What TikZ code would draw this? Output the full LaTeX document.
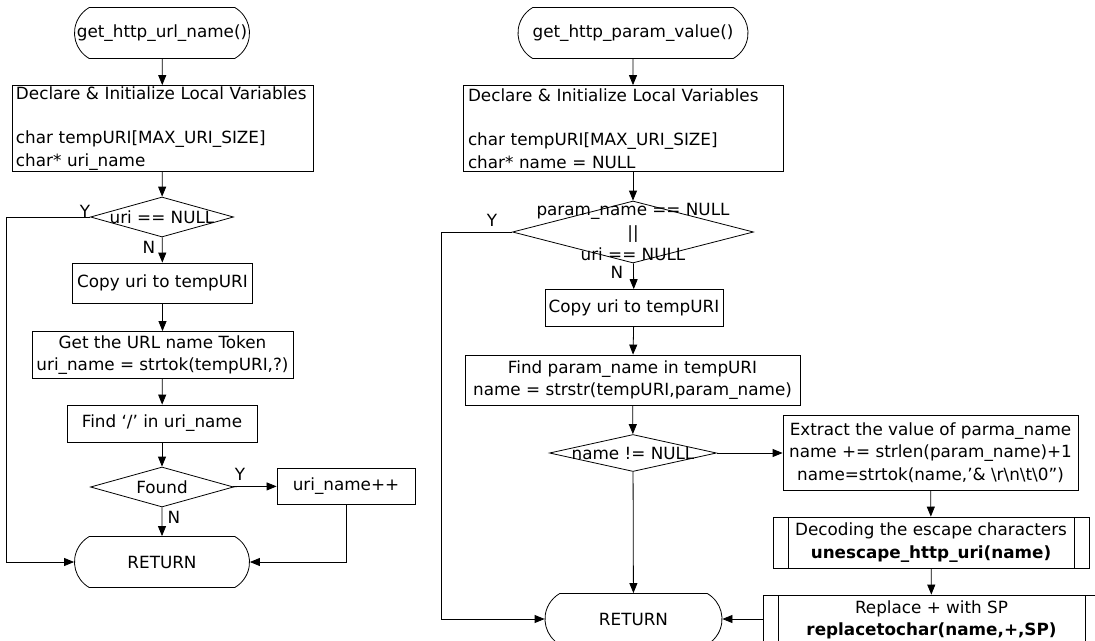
\documentclass[tikz,border=0pt]{standalone}
\usepackage{fontspec}
\setmainfont{DejaVu Sans}
\usetikzlibrary{shapes.geometric,shapes.misc,arrows.meta}

\begin{document}
\begin{tikzpicture}[x=1pt,y=-1pt,line width=0.8pt,
    font=\fontsize{16.8}{22.5}\selectfont,
    term/.style={draw,rounded rectangle,rounded rectangle arc length=120,minimum height=51pt,inner sep=0},
    proc/.style={draw,rectangle,inner sep=0,align=center},
    dec/.style={draw,diamond,inner sep=0},
    sub/.style={proc,path picture={
        \draw ([xshift=15pt]path picture bounding box.north west) -- ([xshift=15pt]path picture bounding box.south west);
        \draw ([xshift=-15pt]path picture bounding box.north east) -- ([xshift=-15pt]path picture bounding box.south east);}},
    arr/.style={-{Triangle[length=10pt,width=8pt]}},
    yn/.style={inner sep=0}]
    \useasboundingbox[fill=white] (0,0) rectangle (1095,640);

    \node[term,minimum width=175pt] (s1) at (162,33) {get\_http\_url\_name()};
    \node[proc,minimum width=301pt,minimum height=86pt,text width=293pt,align=left] (v1) at (162.5,128.5) {Declare \& Initialize Local Variables\\[22pt]char tempURI[MAX\_URI\_SIZE]\\char* uri\_name};
    \node[dec,minimum width=143pt,minimum height=40pt,label=center:{uri == NULL}] (c1) at (162,217) {};
    \node[proc,minimum width=180pt,minimum height=40pt] (p1) at (162.5,283) {Copy uri to tempURI};
    \node[proc,minimum width=261pt,minimum height=47pt] (p2) at (162.5,355) {Get the URL name Token\\uri\_name = strtok(tempURI,?)};
    \node[proc,minimum width=190pt,minimum height=37pt] (p3) at (162,423.5) {Find ‘/’ in uri\_name};
    \node[dec,minimum width=143pt,minimum height=40pt,label=center:Found] (c2) at (162,487) {};
    \node[proc,minimum width=138pt,minimum height=36pt] (p4) at (346,486) {uri\_name++};
    \node[term,minimum width=175pt] (e1) at (162,562) {RETURN};
    \coordinate (l1) at (6,0);

    \node[yn] (y1) at (85,211) {Y};
    \node[yn] (n1) at (149,247) {N};
    \node[yn] (y2) at (240,474) {Y};
    \node[yn] (n2) at (174,517) {N};

    \draw[arr] (s1) to (v1);
    \draw[arr] (v1) to (c1);
    \draw[arr] (c1) to (p1);
    \draw[arr] (p1) to (p2);
    \draw[arr] (p2) to (p3);
    \draw[arr] (p3) to (c2);
    \draw[arr] (c2) to (e1);
    \draw[arr] (c2) to (p4);
    \draw[arr] (p4.south) |- (e1.east);
    \draw[arr] (c1.west) -- (c1.west -| l1) -- (e1.west -| l1) -- (e1.west);

    \node[term,minimum width=230pt] (s2) at (633,33) {get\_http\_param\_value()};
    \node[proc,minimum width=320pt,minimum height=86pt,text width=310pt,align=left] (v2) at (623,128.5) {Declare \& Initialize Local Variables\\[22pt]char tempURI[MAX\_URI\_SIZE]\\char* name = NULL};
    \node[dec,minimum width=241pt,minimum height=62pt,label={[align=center]center:param\_name == NULL\\||\\uri == NULL}] (c3) at (633,232) {};
    \node[proc,minimum width=178pt,minimum height=37pt] (p5) at (634,308) {Copy uri to tempURI};
    \node[proc,minimum width=335pt,minimum height=50pt] (p6) at (632.5,380) {Find param\_name in tempURI\\name = strstr(tempURI,param\_name)};
    \node[dec,minimum width=167pt,minimum height=37pt,label=center:{name != NULL}] (c4) at (633,453) {};
    \node[proc,minimum width=295pt,minimum height=75pt] (p7) at (930.5,452.5) {Extract the value of parma\_name\\name += strlen(param\_name)+1\\name=strtok(name,’\& \textbackslash r\textbackslash n\textbackslash t\textbackslash 0”)};
    \node[sub,minimum width=316pt,minimum height=51pt] (p8) at (931,542.5) {Decoding the escape characters\\\textbf{unescape\_http\_uri(name)}};
    \node[sub,minimum width=337pt,minimum height=50pt] (p9) at (931.5,620) {Replace + with SP\\\textbf{replacetochar(name,+,SP)}};
    \node[term,minimum width=177pt] (e2) at (633.5,619) {RETURN};
    \coordinate (l2) at (441,0);

    \node[yn] (y3) at (492,220) {Y};
    \node[yn] (n3) at (617,272) {N};

    \draw[arr] (s2) to (v2.north -| s2);
    \draw[arr] (v2.south -| c3) to (c3);
    \draw[arr] (c3) to (p5);
    \draw[arr] (p5) to (p6);
    \draw[arr] (p6) to (c4);
    \draw[arr] (c4) to (e2);
    \draw[arr] (c4.east) -- (c4.east -| p7.west);
    \draw[arr] (p7) to (p8);
    \draw[arr] (p8) to (p9);
    \draw[arr] (p9.west |- e2.east) -- (e2.east);
    \draw[arr] (c3.west) -- (c3.west -| l2) -- (e2.west -| l2) -- (e2.west);
\end{tikzpicture}
\end{document}
